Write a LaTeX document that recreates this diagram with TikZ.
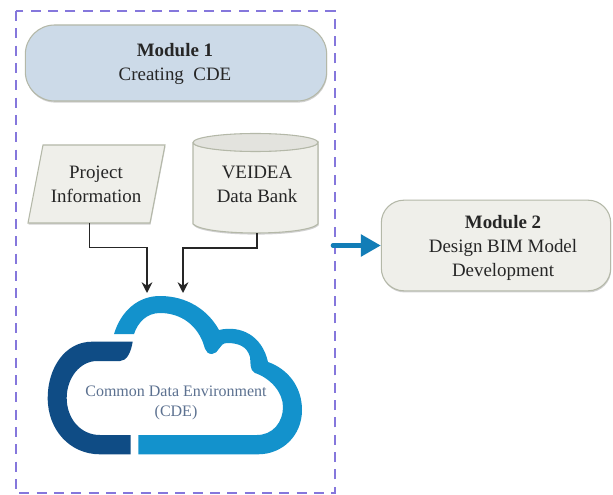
\documentclass[tikz,border=0pt]{standalone}
\usepackage{fontspec}
\setmainfont{Liberation Serif}
\usetikzlibrary{arrows.meta,shadows}
\definecolor{dashv}{HTML}{8577DC}
\definecolor{darkc}{HTML}{0F4C85}
\definecolor{lightc}{HTML}{1392CC}
\definecolor{modblue}{HTML}{CCDAE8}
\definecolor{modgrey}{HTML}{EFEFEA}
\definecolor{edge}{HTML}{B4B8A8}
\definecolor{cdetext}{HTML}{5C7190}
\tikzset{
  x=0.75pt,y=-0.75pt,
  lbl/.style={font=\fontsize{14.2}{18}\selectfont,align=center,text=black!85,inner sep=0pt},
  softshadow/.style={drop shadow={shadow xshift=0.4pt,shadow yshift=-1.2pt,fill=black,opacity=0.18}},
  shapeline/.style={draw=edge,line width=0.8pt,fill=modgrey,softshadow},
  conn/.style={draw=black!85,line width=1.2pt,-{Stealth[length=8pt,width=8pt]}},
}
\begin{document}
\begin{tikzpicture}
\useasboundingbox (0,0) rectangle (613,495);
\fill[white] (0,0) rectangle (613,495);
% dashed frame
\draw[dashv,line width=1pt,dash pattern=on 7.5pt off 5.5pt] (16,11) rectangle (335,493);
% module 1
\node[shapeline,fill=modblue,rounded corners=22pt,minimum width=226pt,minimum height=57pt,anchor=center] (m1) at (176,63) {};
\node[lbl,anchor=center] (m1t) at (175,64) {\textbf{Module 1}\\Creating\ \ CDE};
% parallelogram
\path[shapeline] (43,145) -- (165,145) -- (150,223) -- (28,223) -- cycle;
\coordinate (pi) at (89.5,223);
\node[lbl,anchor=center] (pit) at (96,184) {Project\\Information};
% cylinder
\path[shapeline] (193,142.5) -- (193,224) .. controls (205,236) and (306,236) .. (318,224) -- (318,142.5) arc[start angle=0,end angle=180,x radius=62.5,y radius=8.5];
\draw[edge,line width=0.8pt,fill=black!5!modgrey] (255.5,142.5) ellipse[x radius=62.5,y radius=9];
\coordinate (db) at (257,233);
\node[lbl,anchor=center] (dbt) at (257,184) {VEIDEA\\Data Bank};
% module 2
\node[shapeline,rounded corners=17pt,minimum width=172pt,minimum height=68pt,anchor=center] (m2) at (496,245.5) {};
\node[lbl,anchor=center] (m2t) at (503,248) {\textbf{Module 2}\\Design BIM Model\\Development};
% cloud
\fill[darkc] (132.7,341.7) -- (92,341.7) .. controls (65,341.7) and (47.7,368) .. (47.7,398)
  .. controls (47.7,430) and (70,454.3) .. (100,454.3) -- (130.7,454.3) -- (130.7,435) -- (100,435)
  .. controls (80,435) and (66.7,418) .. (66.7,398) .. controls (66.7,378) and (80,361) .. (97,361)
  -- (120,361) .. controls (127,361) and (131,352) .. cycle;
\fill[lightc] (138.3,435) -- (257,435) .. controls (273,435) and (283,422) .. (283,407)
  .. controls (283,392) and (270,378) .. (255,373) .. controls (249,370) and (251,362) .. (250,357)
  .. controls (247,346) and (238,343) .. (227,343) .. controls (219,343) and (219,354) .. (212,354)
  .. controls (204,354) and (205,345) .. (201,338) .. controls (193,322) and (178,313) .. (160,313)
  .. controls (147,313) and (138,322) .. (134,334) -- (114,334)
  .. controls (121,311) and (138,296) .. (160,296) .. controls (187,296) and (208,310) .. (219,330)
  .. controls (240,325) and (262,335) .. (268,362) .. controls (288,369) and (302,387) .. (302,410)
  .. controls (302,435) and (283,454.3) .. (258,454.3) -- (138.3,454.3) -- cycle;
\coordinate (c1) at (147,293);
\coordinate (c2) at (183,293);
\node[font=\fontsize{12}{15.5}\selectfont,align=center,text=cdetext,inner sep=0pt,anchor=center] (cde) at (176,403) {Common Data Environment\\(CDE)};
% connectors
\draw[conn] (pi) -- (89.5,247.5) -| (c1);
\draw[conn] (db) -- (257,248) -| (c2);
\coordinate (ba) at (333,0);
\draw[line width=3.5pt,color=lightc!70!darkc,line cap=round,-{Triangle[length=15pt,width=16pt]}] (ba |- m2.west) -- (m2.west);
\end{tikzpicture}
\end{document}
